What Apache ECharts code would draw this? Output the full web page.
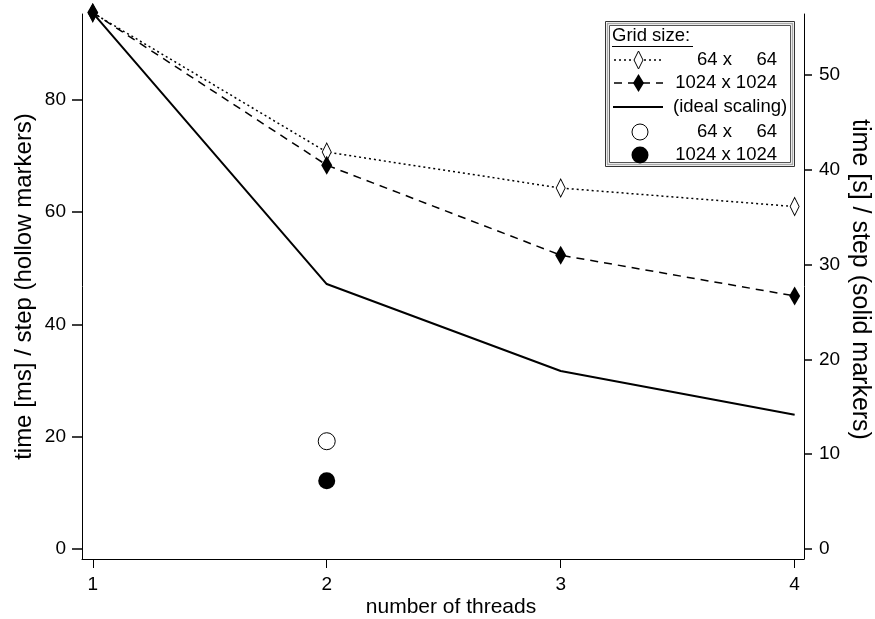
<!DOCTYPE html>
<html>
<head>
<meta charset="utf-8">
<script src="https://cdn.jsdelivr.net/npm/echarts@6/dist/echarts.min.js"></script>
<style>
  html, body { margin: 0; padding: 0; background: #fff; }
  #chart { width: 875px; height: 619px; }
</style>
</head>
<body>
<div id="chart"></div>
<script>
// threads on the x axis
var threads = [1, 2, 3, 4];
// time per step, ms (left axis, hollow markers)
var grid64 = [95.5, 70.7, 64.3, 61.0];
var ideal = [95.5, 47.2, 31.7, 23.9];
// time per step, s (right axis, solid markers)
var grid1024 = [56.6, 40.5, 31.0, 26.7];
// single runs at 2 threads
var single64 = [[2, 19.2]];
var single1024 = [[2, 7.2]];

var xTicks = [1, 2, 3, 4];
var leftTicks = [0, 20, 40, 60, 80];
var rightTicks = [0, 10, 20, 30, 40, 50];

function pairs(xs, ys) {
    return xs.map(function (x, i) { return [x, ys[i]]; });
}

var font = "'Liberation Sans', Arial, Helvetica, sans-serif";
var legendFont = '18.5px ' + font;

(function () {
    var myChart = echarts.init(document.getElementById('chart'));
    var axisLine = { show: true, onZero: false, lineStyle: { color: '#000', width: 1 } };
    var option = {
        animation: false,
        textStyle: { fontFamily: font, color: '#000' },
        grid: {
            left: 82, right: 71, top: 14, bottom: 60,
            containLabel: false,
            outerBoundsMode: 'none'
        },
        xAxis: {
            type: 'value',
            min: 0.954,
            max: 4.04,
            axisLine: axisLine,
            axisTick: { show: true, length: 9, customValues: xTicks, lineStyle: { color: '#000' } },
            axisLabel: { customValues: xTicks, fontSize: 19, color: '#000', margin: 16, fontFamily: font },
            splitLine: { show: false },
            name: 'number of threads',
            nameLocation: 'middle',
            nameGap: 38,
            nameMoveOverlap: false,
            nameTextStyle: { fontSize: 21, color: '#000', fontFamily: font, padding: [0, 0, 0, 16] }
        },
        yAxis: [{
            type: 'value',
            position: 'left',
            min: -1.78,
            max: 95.3,
            axisLine: axisLine,
            axisTick: { show: true, length: 10, customValues: leftTicks, lineStyle: { color: '#000', width: 1.5 } },
            axisLabel: { customValues: leftTicks, fontSize: 19, color: '#000', margin: 16, fontFamily: font },
            splitLine: { show: false },
            name: 'time [ms] / step (hollow markers)',
            nameLocation: 'middle',
            nameRotate: 90,
            nameGap: 46,
            nameMoveOverlap: false,
            nameTextStyle: { fontSize: 24, color: '#000', fontFamily: font }
        }, {
            type: 'value',
            position: 'right',
            min: -1.06,
            max: 56.45,
            axisLine: axisLine,
            axisTick: { show: true, length: 8, customValues: rightTicks, lineStyle: { color: '#000', width: 1.5 } },
            axisLabel: { customValues: rightTicks, fontSize: 19, color: '#000', margin: 15, fontFamily: font },
            splitLine: { show: false },
            name: 'time [s] / step (solid markers)',
            nameLocation: 'middle',
            nameRotate: -90,
            nameGap: 43,
            nameMoveOverlap: false,
            nameTextStyle: { fontSize: 25, color: '#000', fontFamily: font, padding: [0, 14, 0, 0] }
        }],
        series: [{
            name: 'ideal scaling',
            type: 'line',
            yAxisIndex: 0,
            data: pairs(threads, ideal),
            showSymbol: false,
            symbol: 'none',
            clip: false,
            lineStyle: { color: '#000', width: 2 },
            z: 2
        }, {
            name: '64 x 64',
            type: 'line',
            yAxisIndex: 0,
            data: pairs(threads, grid64),
            symbol: 'diamond',
            symbolSize: [9, 18],
            clip: false,
            lineStyle: { color: '#000', width: 1.5, type: [2, 3] },
            itemStyle: { color: '#fff', borderColor: '#000', borderWidth: 1 },
            z: 3
        }, {
            name: '1024 x 1024',
            type: 'line',
            yAxisIndex: 1,
            data: pairs(threads, grid1024),
            symbol: 'diamond',
            symbolSize: [11, 19],
            clip: false,
            lineStyle: { color: '#000', width: 1.5, type: [8, 6] },
            itemStyle: { color: '#000', borderColor: '#000', borderWidth: 0 },
            z: 4
        }, {
            name: '64 x 64 single',
            type: 'scatter',
            yAxisIndex: 0,
            data: single64,
            symbol: 'circle',
            symbolSize: 17,
            itemStyle: { color: '#fff', borderColor: '#000', borderWidth: 1, opacity: 1 }
        }, {
            name: '1024 x 1024 single',
            type: 'scatter',
            yAxisIndex: 1,
            data: single1024,
            symbol: 'circle',
            symbolSize: 17,
            itemStyle: { color: '#000', opacity: 1 }
        }],
        graphic: {
            elements: [
                { type: 'rect', shape: { x: 605.5, y: 21.5, width: 189, height: 145 }, style: { fill: '#fff', stroke: '#333', lineWidth: 1 }, z: 10 },
                { type: 'rect', shape: { x: 607.5, y: 23.5, width: 185, height: 141 }, style: { fill: 'none', stroke: '#aaa', lineWidth: 1.5 }, z: 10 },
                { type: 'rect', shape: { x: 609.5, y: 25.5, width: 181, height: 137 }, style: { fill: 'none', stroke: '#555', lineWidth: 1 }, z: 10 },
                { type: 'text', x: 612, y: 36, style: { text: 'Grid size:', font: legendFont, fill: '#000', verticalAlign: 'middle', align: 'left' }, z: 11 },
                { type: 'line', shape: { x1: 612, y1: 46.5, x2: 693, y2: 46.5 }, style: { stroke: '#000', lineWidth: 1 }, z: 11 },
                // row 1
                { type: 'line', shape: { x1: 614, y1: 60, x2: 663, y2: 60 }, style: { stroke: '#000', lineWidth: 1.5, lineDash: [2, 3] }, z: 11 },
                { type: 'polygon', shape: { points: [[638.5, 51], [643, 60], [638.5, 69], [634, 60]] }, style: { fill: '#fff', stroke: '#000', lineWidth: 1 }, z: 12 },
                { type: 'text', x: 732, y: 60, style: { text: '64 x', font: legendFont, fill: '#000', verticalAlign: 'middle', align: 'right' }, z: 11 },
                { type: 'text', x: 777, y: 60, style: { text: '64', font: legendFont, fill: '#000', verticalAlign: 'middle', align: 'right' }, z: 11 },
                // row 2
                { type: 'line', shape: { x1: 614, y1: 83, x2: 663, y2: 83 }, style: { stroke: '#000', lineWidth: 1.5, lineDash: [8, 6] }, z: 11 },
                { type: 'polygon', shape: { points: [[638.5, 74], [644, 83], [638.5, 92], [633, 83]] }, style: { fill: '#000' }, z: 12 },
                { type: 'text', x: 777, y: 83, style: { text: '1024 x 1024', font: legendFont, fill: '#000', verticalAlign: 'middle', align: 'right' }, z: 11 },
                // row 3
                { type: 'line', shape: { x1: 613, y1: 107, x2: 663, y2: 107 }, style: { stroke: '#000', lineWidth: 2 }, z: 11 },
                { type: 'text', x: 673, y: 107, style: { text: '(ideal scaling)', font: legendFont, fill: '#000', verticalAlign: 'middle', align: 'left' }, z: 11 },
                // row 4
                { type: 'circle', shape: { cx: 640, cy: 132, r: 8 }, style: { fill: '#fff', stroke: '#000', lineWidth: 1 }, z: 11 },
                { type: 'text', x: 732, y: 132, style: { text: '64 x', font: legendFont, fill: '#000', verticalAlign: 'middle', align: 'right' }, z: 11 },
                { type: 'text', x: 777, y: 132, style: { text: '64', font: legendFont, fill: '#000', verticalAlign: 'middle', align: 'right' }, z: 11 },
                // row 5
                { type: 'circle', shape: { cx: 640, cy: 155, r: 8.5 }, style: { fill: '#000' }, z: 11 },
                { type: 'text', x: 777, y: 155, style: { text: '1024 x 1024', font: legendFont, fill: '#000', verticalAlign: 'middle', align: 'right' }, z: 11 }
            ]
        }
    };
    myChart.setOption(option);
})();
</script>
</body>
</html>
